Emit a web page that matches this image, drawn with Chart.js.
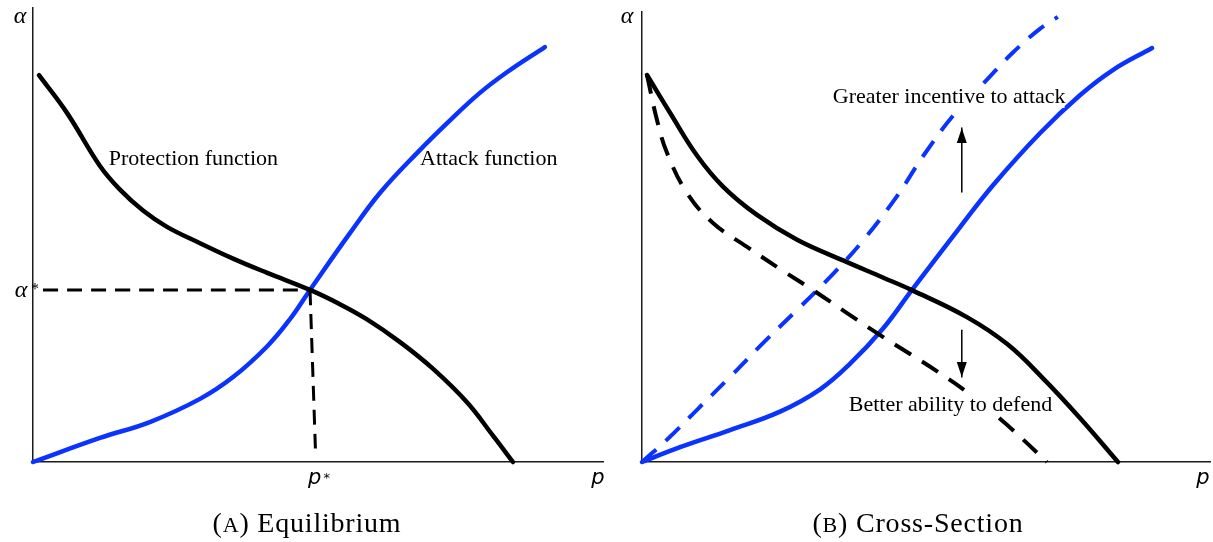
<!DOCTYPE html>
<html><head><meta charset="utf-8">
<script src="https://cdn.jsdelivr.net/npm/chart.js@4.4.1/dist/chart.umd.min.js"></script>
<style>
html,body{margin:0;padding:0;background:#fff;}
#wrap{position:relative;width:1213px;height:542px;overflow:hidden;background:#fff;}
canvas{position:absolute;top:0;}
</style></head><body>
<div id="wrap">
<canvas id="cA" width="607" height="542" style="left:0;width:607px;height:542px"></canvas>
<canvas id="cB" width="606" height="542" style="left:607px;width:606px;height:542px"></canvas>
</div>
<script>
// ---------- Panel A: Equilibrium (p on x axis, alpha on y axis, 0..100) ----------
const protectionA_p     = [1.05, 5.96, 11.75, 15.26, 19.3, 23.5, 29.3, 35.1, 41.1, 48.6, 53.6, 58.6, 64.4, 70.2, 76.1, 80.7, 84.2];
const protectionA_alpha = [85.2, 76.9, 65.2, 60.0, 55.4, 51.8, 48.2, 44.8, 41.65, 37.9, 34.9, 31.4, 26.4, 20.5, 13.2, 5.8, 0];
const attackA_p         = [0, 11.75, 20.5, 29.3, 35.1, 41.1, 45.1, 48.6, 55.6, 60.9, 67.4, 73.2, 78.4, 83.2, 89.8];
const attackA_alpha     = [0, 5.3, 8.8, 13.9, 18.7, 25.5, 31.5, 37.9, 50.4, 59.3, 68.1, 75.3, 81.3, 85.9, 91.4];
const alphaGuideA_p     = [1.75, 48.6];
const alphaGuideA_alpha = [37.9, 37.9];
const pGuideA_p         = [48.6, 49.6];
const pGuideA_alpha     = [37.9, 0.9];
const tickA_alphaStar   = 37.9;
const tickA_pStar       = 49.6;

// ---------- Panel B: Cross-Section ----------
const protectionB_p      = [0.88, 4.93, 9.68, 14.26, 20.25, 27.3, 35.4, 42.4, 47.5, 57.2, 64.3, 70.6, 77.1, 83.8];
const protectionB_alpha  = [86.0, 77.6, 68.1, 61.2, 54.9, 49.4, 44.8, 41.0, 38.2, 32.2, 26.2, 18.6, 9.8, 0];
const protectionB2_p     = [0.88, 2.64, 4.4, 7.92, 12.5, 18.5, 24.3, 30.1, 36.1, 42.4, 47.2, 51.9, 57.7, 64.3, 71.3];
const protectionB2_alpha = [86.0, 76.0, 68.7, 59.8, 53.1, 47.8, 42.9, 38.2, 33.1, 27.8, 24.0, 20.2, 15.1, 8.2, 0];
const attackB_p          = [0, 6.7, 15.5, 24.3, 31.3, 36.6, 42.4, 47.5, 56.0, 61.8, 70.1, 77.1, 82.9, 89.8];
const attackB_alpha      = [0, 3.3, 7.1, 11.2, 16.1, 21.8, 29.6, 38.2, 52.2, 61.5, 73.1, 81.5, 87.1, 92.0];
const attackB2_p         = [0, 4.93, 9.68, 15.5, 21.3, 27.3, 33.1, 38.9, 44.9, 49.5, 54.8, 60.7, 65.3, 70.1, 73.2];
const attackB2_alpha     = [0, 5.6, 11.6, 18.9, 26.4, 33.8, 41.1, 49.2, 59.1, 68.0, 77.0, 84.9, 91.0, 96.3, 98.9];
const arrowUpB_p         = [56.3, 56.3];
const arrowUpB_alpha     = [60.0, 74.2];
const arrowDownB_p       = [56.3, 56.3];
const arrowDownB_alpha   = [29.3, 18.9];

// ---------- text ----------
const labelsA = [
  {text: 'Protection function', p: 13.3, alpha: 66.7},
  {text: 'Attack function', p: 67.9, alpha: 66.7}
];
const labelsB = [
  {text: 'Greater incentive to attack', p: 33.6, alpha: 81.1, bg: true},
  {text: 'Better ability to defend', p: 36.4, alpha: 12.7, bg: true}
];

const SERIF = "'Liberation Serif', 'Times New Roman', serif";
const SANS = "'DejaVu Sans', sans-serif";
const BLUE = '#0a33ff';

function series(xs, ys, color, width, dash) {
  return {
    data: xs.map((x, i) => ({x: x, y: ys[i]})),
    borderColor: color, backgroundColor: color, borderWidth: width,
    borderDash: dash || [], pointRadius: 0, pointHoverRadius: 0, fill: false,
    tension: 0.4, clip: false,
    borderCapStyle: dash ? 'butt' : 'round', borderJoinStyle: 'round'
  };
}

function scales() {
  const ax = {type: 'linear', min: 0, max: 100,
    grid: {display: false, drawTicks: false, tickLength: 0},
    ticks: {display: false},
    border: {display: true, color: '#1a1a1a', width: 1.5}};
  return {x: JSON.parse(JSON.stringify(ax)), y: JSON.parse(JSON.stringify(ax))};
}

const decor = {
  id: 'decor',
  afterDraw(chart, args, o) {
    const ctx = chart.ctx, xs = chart.scales.x, ys = chart.scales.y, ca = chart.chartArea;
    const X = v => xs.getPixelForValue(v), Y = v => ys.getPixelForValue(v);
    ctx.save();
    // in-plot labels
    ctx.font = '22px ' + SERIF;
    ctx.textAlign = 'left'; ctx.textBaseline = 'middle';
    (o.labels || []).forEach(l => {
      const px = X(l.p), py = Y(l.alpha);
      if (l.bg) {
        const w = ctx.measureText(l.text).width;
        ctx.fillStyle = '#fff'; ctx.fillRect(px - 2, py - 11, w + 1, 22);
      }
      ctx.fillStyle = '#000'; ctx.fillText(l.text, px, py);
    });
    // arrowheads
    ctx.fillStyle = '#000';
    (o.arrows || []).forEach(a => {
      const n = a.p.length - 1;
      const tx = X(a.p[n]), ty = Y(a.alpha[n]);
      const dir = a.alpha[n] > a.alpha[0] ? 1 : -1;
      ctx.beginPath();
      ctx.moveTo(tx, ty);
      ctx.lineTo(tx - 5, ty + dir * 15);
      ctx.lineTo(tx + 5, ty + dir * 15);
      ctx.closePath(); ctx.fill();
    });
    // axis labels
    ctx.textAlign = 'center'; ctx.textBaseline = 'alphabetic';
    ctx.font = 'italic 24px ' + SERIF;
    ctx.fillText('α', ca.left + o.alphaDx, 23);
    ctx.font = 'italic 21px ' + SANS;
    ctx.fillText('p', ca.right + o.pDx, 484);
    // starred ticks
    if (o.alphaStar !== undefined) {
      const y = Y(o.alphaStar);
      ctx.font = 'italic 24px ' + SERIF;
      ctx.fillText('α', ca.left - 12, y + 7);
      ctx.font = '16px ' + SERIF;
      ctx.fillText('*', ca.left + 2, y + 4);
    }
    if (o.pStar !== undefined) {
      const x = X(o.pStar);
      ctx.font = 'italic 21px ' + SANS;
      ctx.fillText('p', x - 1, 484);
      ctx.font = '13px ' + SANS;
      ctx.fillText('*', x + 11, 482);
    }
    // caption with small-caps letter
    const c = o.caption;
    ctx.textAlign = 'left';
    try { ctx.letterSpacing = '0.8px'; } catch (e) {}
    ctx.font = '28px ' + SERIF; const w1 = ctx.measureText(c.pre).width, w3 = ctx.measureText(c.post).width;
    ctx.font = '22px ' + SERIF; const w2 = ctx.measureText(c.sc).width;
    let x0 = c.cx - (w1 + w2 + w3) / 2;
    ctx.font = '28px ' + SERIF; ctx.fillText(c.pre, x0, 532);
    ctx.font = '22px ' + SERIF; ctx.fillText(c.sc, x0 + w1, 532);
    ctx.font = '28px ' + SERIF; ctx.fillText(c.post, x0 + w1 + w2, 532);
    ctx.restore();
  }
};

function baseOptions(pad, decorOpts) {
  return {
    responsive: false, animation: false, maintainAspectRatio: false,
    layout: {padding: pad},
    scales: scales(),
    plugins: {legend: {display: false}, tooltip: {enabled: false}, decor: decorOpts},
    events: []
  };
}

new Chart(document.getElementById('cA'), {
  type: 'line',
  data: {datasets: [
    series(alphaGuideA_p, alphaGuideA_alpha, '#000', 3, [15, 9]),
    series(pGuideA_p, pGuideA_alpha, '#000', 3, [15, 9]),
    series(protectionA_p, protectionA_alpha, '#000', 4.5),
    series(attackA_p, attackA_alpha, BLUE, 4.5)
  ]},
  options: baseOptions({left: 33, right: 4, top: 8, bottom: 80}, {
    labels: labelsA, alphaDx: -13, pDx: -5,
    alphaStar: tickA_alphaStar, pStar: tickA_pStar,
    caption: {pre: '(', sc: 'A', post: ') Equilibrium', cx: 307}
  }),
  plugins: [decor]
});

new Chart(document.getElementById('cB'), {
  type: 'line',
  data: {datasets: [
    series(protectionB2_p, protectionB2_alpha, '#000', 4, [19, 13]),
    series(attackB2_p, attackB2_alpha, BLUE, 4, [19, 13]),
    series(protectionB_p, protectionB_alpha, '#000', 4.5),
    series(attackB_p, attackB_alpha, BLUE, 4.5),
    series(arrowUpB_p, arrowUpB_alpha, '#000', 1.5),
    series(arrowDownB_p, arrowDownB_alpha, '#000', 1.5)
  ]},
  options: baseOptions({left: 35, right: 3, top: 12, bottom: 80}, {
    labels: labelsB, alphaDx: -15, pDx: -7,
    arrows: [{p: arrowUpB_p, alpha: arrowUpB_alpha}, {p: arrowDownB_p, alpha: arrowDownB_alpha}],
    caption: {pre: '(', sc: 'B', post: ') Cross-Section', cx: 311}
  }),
  plugins: [decor]
});
</script>
</body></html>
